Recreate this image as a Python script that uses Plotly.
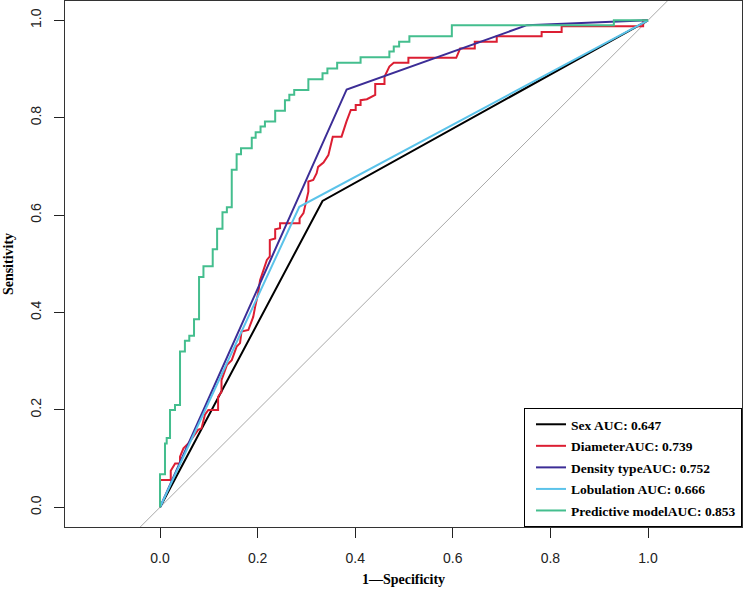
import plotly.graph_objects as go

# ---- data ----
sex_fpr = [0.0, 0.333, 1.0]
sex_tpr = [0.0, 0.629, 1.0]

diam_fpr = [0.0, 0.0, 0.022, 0.022, 0.031, 0.041, 0.041, 0.048, 0.058, 0.068, 0.078, 0.085, 0.089, 0.092,
            0.099, 0.119, 0.119, 0.126, 0.126, 0.137, 0.147, 0.157, 0.164, 0.167, 0.181, 0.191, 0.195,
            0.201, 0.205, 0.215, 0.219, 0.225, 0.225, 0.236, 0.236, 0.246, 0.246, 0.286, 0.286, 0.294,
            0.304, 0.304, 0.314, 0.321, 0.324, 0.335, 0.345, 0.354, 0.372, 0.382, 0.391, 0.401, 0.401,
            0.411, 0.411, 0.424, 0.441, 0.441, 0.460, 0.460, 0.470, 0.479, 0.509, 0.509, 0.607, 0.615,
            0.645, 0.645, 0.690, 0.690, 0.782, 0.782, 0.823, 0.823, 0.990, 0.990, 1.0]
diam_tpr = [0.0, 0.056, 0.056, 0.075, 0.090, 0.090, 0.104, 0.121, 0.131, 0.145, 0.159, 0.162, 0.179, 0.190,
            0.200, 0.200, 0.227, 0.237, 0.261, 0.292, 0.302, 0.330, 0.337, 0.361, 0.364, 0.391, 0.412,
            0.439, 0.466, 0.494, 0.508, 0.515, 0.549, 0.552, 0.571, 0.573, 0.583, 0.583, 0.593, 0.604,
            0.648, 0.669, 0.672, 0.686, 0.699, 0.708, 0.723, 0.761, 0.761, 0.792, 0.816, 0.816, 0.826,
            0.826, 0.836, 0.838, 0.847, 0.869, 0.869, 0.884, 0.905, 0.913, 0.913, 0.923, 0.923, 0.942,
            0.942, 0.956, 0.956, 0.967, 0.967, 0.976, 0.976, 0.988, 0.988, 1.0, 1.0]

dens_fpr = [0.0, 0.3825, 0.752, 1.0]
dens_tpr = [0.0, 0.858, 0.990, 1.0]

lob_fpr = [0.0, 0.2855, 1.0]
lob_tpr = [0.0, 0.617, 1.0]

model_fpr = [0.0, 0.0, 0.0102, 0.0137, 0.0205, 0.0307, 0.041, 0.051, 0.060, 0.0697, 0.080, 0.089, 0.108,
             0.117, 0.128, 0.137, 0.147, 0.157, 0.166, 0.188, 0.196, 0.206, 0.215, 0.236, 0.256, 0.265,
             0.275, 0.304, 0.333, 0.343, 0.363, 0.411, 0.470, 0.479, 0.490, 0.511, 0.598, 0.930, 1.0]
model_tpr = [0.0, 0.068, 0.131, 0.142, 0.200, 0.210, 0.320, 0.342, 0.352, 0.386, 0.473, 0.495, 0.530,
             0.572, 0.606, 0.616, 0.693, 0.725, 0.737, 0.759, 0.770, 0.782, 0.792, 0.814, 0.836, 0.847,
             0.857, 0.879, 0.891, 0.901, 0.913, 0.924, 0.936, 0.946, 0.956, 0.967, 0.990, 1.0, 1.0]

names = ["Sex AUC: 0.647", "DiameterAUC: 0.739", "Density typeAUC: 0.752",
         "Lobulation AUC: 0.666", "Predictive modelAUC: 0.853"]
colors = ["#000000", "#DC1E32", "#3C2D96", "#5BC3EA", "#44BE8E"]

ref_line = [-0.2, 1.2]
tick_vals = [0.0, 0.2, 0.4, 0.6, 0.8, 1.0]
tick_text = ["0.0", "0.2", "0.4", "0.6", "0.8", "1.0"]

fig = go.Figure()
fig.add_trace(go.Scatter(x=ref_line, y=ref_line, mode="lines",
                         line=dict(color="#A8A8A8", width=1), showlegend=False, hoverinfo="skip"))

series = [(sex_fpr, sex_tpr, "linear"), (diam_fpr, diam_tpr, "linear"), (dens_fpr, dens_tpr, "linear"),
          (lob_fpr, lob_tpr, "linear"), (model_fpr, model_tpr, "hv")]
for i, (fx, ty, shp) in enumerate(series):
    fig.add_trace(go.Scatter(x=fx, y=ty, mode="lines", name=names[i], legendgroup=f"g{i}",
                             line=dict(color=colors[i], width=2, shape=shp)))

axis_common = dict(showline=True, mirror=True, linecolor="#333333", linewidth=1,
                   showgrid=False, zeroline=False, ticks="outside", ticklen=10, tickwidth=1,
                   tickcolor="#222222", tickvals=tick_vals, ticktext=tick_text,
                   tickfont=dict(family="Liberation Sans", size=14, color="#222222"))

fig.update_layout(
    width=744, height=594, autosize=False,
    margin=dict(l=65, r=2, t=1, b=67),
    plot_bgcolor="white", paper_bgcolor="white",
    xaxis=dict(range=[-0.1947, 1.1926], ticklabelstandoff=8,
               title=dict(text="1—Specificity", standoff=9,
                          font=dict(family="Liberation Serif", size=14, color="black", weight="bold")),
               **axis_common),
    yaxis=dict(range=[-0.0405, 1.0396], tickangle=-90, ticklabelstandoff=7,
               title=dict(text="Sensitivity", standoff=11,
                          font=dict(family="Liberation Serif", size=14, color="black", weight="bold")),
               **axis_common),
    legend=dict(x=1, xanchor="right", y=0, yanchor="bottom",
                bgcolor="white", bordercolor="black", borderwidth=1,
                font=dict(family="Liberation Serif", size=13.5, color="black", weight="bold"),
                tracegroupgap=1, indentation=6),
    showlegend=True,
)

fig.write_html("out.html")
